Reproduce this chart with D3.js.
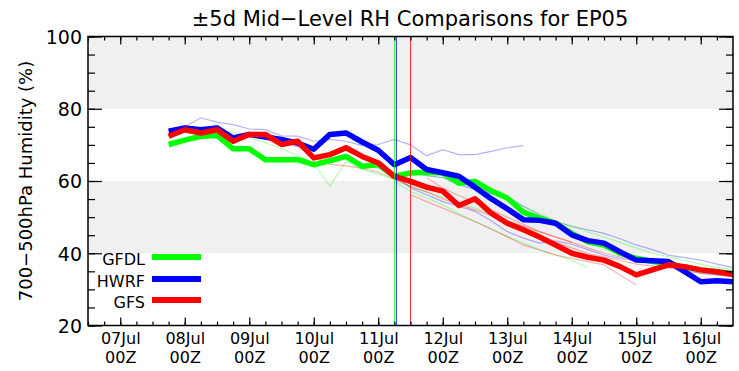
<!DOCTYPE html>
<html>
<head>
<meta charset="utf-8">
<script src="https://cdn.jsdelivr.net/npm/d3@7"></script>
<style>
  html, body { margin: 0; padding: 0; background: #fff; }
  svg { display: block; font-family: "DejaVu Sans", sans-serif; }
</style>
</head>
<body>
<svg id="chart" width="739" height="371"></svg>
<script>
(function () {
  "use strict";

  var title = "\u00b15d Mid\u2212Level RH Comparisons for EP05";
  var yTitle = "700\u2212500hPa Humidity (%)";

  // Time grid: 6-hourly points starting 07Jul 18Z.
  var firstTime = "2015-07-07T18:00:00Z";
  var xStart = "2015-07-06T12:00:00Z";
  var xEnd = "2015-07-16T12:00:00Z";

  var xDayLabels = ["07Jul", "08Jul", "09Jul", "10Jul", "11Jul",
                    "12Jul", "13Jul", "14Jul", "15Jul", "16Jul"];
  var xHourLabel = "00Z";
  var yTickValues = [20, 40, 60, 80, 100];
  var greyBands = [[40, 60], [80, 100]];

  var models = ["GFDL", "HWRF", "GFS"];
  var modelColors = { GFDL: "#00ff00", HWRF: "#0000ff", GFS: "#ff0000" };

  // Current forecast (thick lines).
  var gfdl = [70.1, 71.3, 72.4, 72.6, 68.9, 68.9, 65.9, 65.9, 65.9, 64.5,
              65.6, 66.8, 64.1, 64.5, 61.3, 62.2, 62.4, 62.2, 59.4, 59.9,
              57.3, 55.3, 51.4, 49.7, 48.3, 45.5, 43.2, 42.3, 40.0, 38.6,
              37.7, 37.2, 36.1, 35.4, 34.9, 34.4];
  var hwrf = [73.8, 74.7, 74.2, 74.7, 71.9, 72.9, 72.2, 71.5, 70.5, 68.8,
              72.9, 73.3, 70.8, 68.5, 64.5, 66.5, 63.2, 62.3, 61.3, 58.3,
              55.1, 52.3, 49.3, 49.1, 48.3, 45.1, 43.5, 42.8, 40.4, 38.1,
              37.9, 37.7, 34.9, 32.1, 32.4, 32.1];
  var gfs = [72.4, 74.2, 73.3, 74.2, 71.0, 72.9, 72.9, 70.1, 71.0, 66.4,
             67.3, 69.2, 66.8, 65.0, 61.3, 59.9, 58.3, 57.2, 53.2, 55.1,
             51.1, 48.3, 46.5, 44.5, 42.3, 40.0, 38.9, 38.1, 36.3, 34.0,
             35.4, 36.8, 36.3, 35.4, 34.9, 34.2];

  // Other cycles (thin faint lines); start = index into the time grid.
  var hwrfRunA = [75.0, 77.5, 76.3, 75.6, 74.4, 74.2, 72.5, 72.4, 71.0, 71.5,
                  71.0, 69.8, 70.1, 71.5, 70.0, 67.0, 68.7, 67.3, 67.3, 68.2,
                  69.2, 69.8];
  var hwrfRunB = [66.0, 61.5, 58.1, 56.2, 54.3, 53.0, 51.6, 49.0, 46.0, 44.2,
                  42.8, 43.4, 42.5, 41.0, 39.5, 38.5, 38.0, 37.5, 36.5, 35.5,
                  34.5, 34.0, 33.5];
  var hwrfRunC = [62.5, 61.5, 60.9, 59.0, 57.6, 56.5, 55.7, 53.0, 50.6, 48.8,
                  47.4, 46.5, 45.5, 44.0, 42.3, 41.0, 39.5, 38.8, 38.1, 37.0,
                  36.0];
  var gfdlRunA = [72.5, 73.8, 73.5, 72.0, 70.6, 69.0, 67.0, 65.0, 58.6, 65.5,
                  63.2, 61.9, 60.4, 58.5, 57.0, 55.5, 54.0, 52.5, 51.0, 49.0,
                  47.0, 45.5];
  var gfdlRunB = [60.0, 57.1, 55.3, 53.4, 51.0, 48.8, 46.7, 44.6, 42.8, 41.0,
                  39.5, 38.0, 36.0];
  var gfdlRunC = [62.0, 61.5, 61.0, 59.5, 58.5, 57.0, 55.0, 53.0, 51.0, 49.0,
                  47.5, 46.0, 44.5, 43.0, 41.5, 40.0, 39.0, 38.0, 37.0, 36.0,
                  35.5];
  var gfsRunA = [72.0, 72.5, 71.6, 70.5, 69.5, 66.9, 64.6, 64.2, 63.5, 62.5,
                 60.5, 58.5, 57.0, 55.0, 53.5, 52.0, 50.5, 49.0, 47.5, 46.0,
                 44.5, 43.0];
  var gfsRunB = [56.2, 54.3, 52.5, 50.6, 48.8, 46.7, 44.6, 42.3, 40.9, 39.5,
                 38.6, 37.7, 36.8, 34.0, 31.2];
  var gfsRunC = [61.0, 58.0, 56.0, 54.0, 52.0, 50.0, 48.0, 46.0, 44.5, 43.0,
                 41.5, 40.0, 39.0, 38.0, 37.5, 37.0, 36.0, 35.5, 35.0, 34.5];
  var gfsRunD = [45.0, 43.0, 41.5, 40.0, 39.0, 38.0, 37.0, 36.5, 36.0, 35.0,
                 34.5, 34.0, 33.5];

  // Storm time markers (vertical lines).
  var markerTimes = { GFDL: "2015-07-11T06:00:00Z",
                      HWRF: "2015-07-11T06:45:00Z",
                      GFS: "2015-07-11T12:00:00Z" };

  var thinRuns = [
    { model: "HWRF", start: 1, values: hwrfRunA },
    { model: "GFDL", start: 2, values: gfdlRunA },
    { model: "GFS", start: 4, values: gfsRunA },
    { model: "HWRF", start: 13, values: hwrfRunB },
    { model: "GFDL", start: 14, values: gfdlRunB },
    { model: "HWRF", start: 15, values: hwrfRunC },
    { model: "GFDL", start: 15, values: gfdlRunC },
    { model: "GFS", start: 15, values: gfsRunB },
    { model: "GFS", start: 16, values: gfsRunC },
    { model: "GFS", start: 23, values: gfsRunD }
  ];
  var thickRuns = [
    { model: "GFDL", start: 0, values: gfdl },
    { model: "HWRF", start: 0, values: hwrf },
    { model: "GFS", start: 0, values: gfs }
  ];

  var left = 88, right = 733, top = 36.5, bottom = 325.5;
  var svg = d3.select("#chart");

  var x = d3.scaleUtc()
    .domain([new Date(xStart), new Date(xEnd)])
    .range([left, right]);
  var y = d3.scaleLinear().domain([20, 100]).range([bottom, top]);

  var t0 = new Date(firstTime);
  function timeAt(i) { return d3.utcHour.offset(t0, 6 * i); }

  // Background bands.
  svg.append("g").selectAll("rect")
    .data(greyBands).enter().append("rect")
    .attr("x", left)
    .attr("width", right - left)
    .attr("y", function (d) { return y(d[1]); })
    .attr("height", function (d) { return y(d[0]) - y(d[1]); })
    .attr("fill", "#f0f0f0");

  function runLine(run) {
    return d3.line()
      .x(function (d, i) { return x(timeAt(run.start + i)); })
      .y(function (d) { return y(d); })(run.values);
  }

  // Thin lines.
  svg.append("g").selectAll("path")
    .data(thinRuns).enter().append("path")
    .attr("d", runLine)
    .attr("fill", "none")
    .attr("stroke", function (d) { return modelColors[d.model]; })
    .attr("stroke-opacity", 0.3)
    .attr("stroke-width", 1.2);

  // Thick lines.
  svg.append("g").selectAll("path")
    .data(thickRuns).enter().append("path")
    .attr("d", runLine)
    .attr("fill", "none")
    .attr("stroke", function (d) { return modelColors[d.model]; })
    .attr("stroke-width", 5.5)
    .attr("stroke-linejoin", "round");

  // Vertical markers.
  svg.append("g").selectAll("line")
    .data(models).enter().append("line")
    .attr("x1", function (d) { return x(new Date(markerTimes[d])); })
    .attr("x2", function (d) { return x(new Date(markerTimes[d])); })
    .attr("y1", top).attr("y2", bottom)
    .attr("stroke", function (d) { return modelColors[d]; })
    .attr("stroke-opacity", 0.8)
    .attr("stroke-width", 1);

  // Axes.
  var majorDays = d3.utcDay.range(new Date("2015-07-07T00:00:00Z"), new Date(xEnd));
  var minorHours = d3.utcHour.every(6).range(new Date(xStart), new Date(xEnd));
  var minorY = d3.range(20, 101, 5);

  function styleAxis(g) {
    g.select(".domain").remove();
    g.selectAll(".tick line").attr("stroke", "#000").attr("stroke-width", 1.2);
  }

  svg.append("g").attr("transform", "translate(0," + bottom + ")")
    .call(d3.axisBottom(x).tickValues(minorHours).tickSize(-4).tickFormat(""))
    .call(styleAxis);
  svg.append("g").attr("transform", "translate(0," + top + ")")
    .call(d3.axisTop(x).tickValues(minorHours).tickSize(-4).tickFormat(""))
    .call(styleAxis);
  svg.append("g").attr("transform", "translate(0," + top + ")")
    .call(d3.axisTop(x).tickValues(majorDays).tickSize(-8).tickFormat(""))
    .call(styleAxis);

  // Bottom labels: two separate text rows (day, hour).
  var xAxis = svg.append("g").attr("transform", "translate(0," + bottom + ")")
    .call(d3.axisBottom(x).tickValues(majorDays).tickSize(-8)
      .tickFormat(function (d, i) { return xDayLabels[i]; }))
    .call(styleAxis);
  xAxis.selectAll(".tick text")
    .attr("y", 18).attr("dy", null)
    .attr("font-family", "DejaVu Sans").attr("font-size", 16)
    .attr("fill", "#000");
  xAxis.selectAll(".tick").append("text")
    .attr("y", 37.5)
    .attr("text-anchor", "middle")
    .attr("font-family", "DejaVu Sans").attr("font-size", 16)
    .attr("fill", "#000")
    .text(xHourLabel);

  svg.append("g").attr("transform", "translate(" + left + ",0)")
    .call(d3.axisLeft(y).tickValues(minorY).tickSize(-7).tickFormat(""))
    .call(styleAxis);
  var yAxis = svg.append("g").attr("transform", "translate(" + left + ",0)")
    .call(d3.axisLeft(y).tickValues(yTickValues).tickSize(-14).tickPadding(6))
    .call(styleAxis);
  yAxis.selectAll(".tick text")
    .attr("font-family", "DejaVu Sans").attr("font-size", 19)
    .attr("fill", "#000").attr("dy", "0.36em");

  svg.append("g").attr("transform", "translate(" + right + ",0)")
    .call(d3.axisRight(y).tickValues(minorY).tickSize(-7).tickFormat(""))
    .call(styleAxis);
  svg.append("g").attr("transform", "translate(" + right + ",0)")
    .call(d3.axisRight(y).tickValues(yTickValues).tickSize(-14).tickFormat(""))
    .call(styleAxis);

  // Frame.
  svg.append("rect")
    .attr("x", left).attr("y", top)
    .attr("width", right - left).attr("height", bottom - top)
    .attr("fill", "none").attr("stroke", "#000").attr("stroke-width", 1.5);

  // Titles.
  svg.append("text")
    .attr("x", 410).attr("y", 26)
    .attr("text-anchor", "middle")
    .attr("font-size", 21)
    .attr("fill", "#000")
    .text(title);

  svg.append("text")
    .attr("transform", "translate(32," + ((top + bottom) / 2) + ") rotate(-90)")
    .attr("text-anchor", "middle")
    .attr("font-size", 18)
    .attr("fill", "#000")
    .text(yTitle);

  // Legend.
  var legendRows = [257, 279, 300];
  var legend = svg.append("g").selectAll("g")
    .data(models).enter().append("g")
    .attr("transform", function (d, i) { return "translate(0," + legendRows[i] + ")"; });
  legend.append("text")
    .attr("x", 145).attr("y", 8)
    .attr("text-anchor", "end")
    .attr("font-size", 16)
    .attr("fill", "#000")
    .text(function (d) { return d; });
  legend.append("line")
    .attr("x1", 152).attr("x2", 201)
    .attr("stroke", function (d) { return modelColors[d]; })
    .attr("stroke-width", 6);
})();
</script>
</body>
</html>
